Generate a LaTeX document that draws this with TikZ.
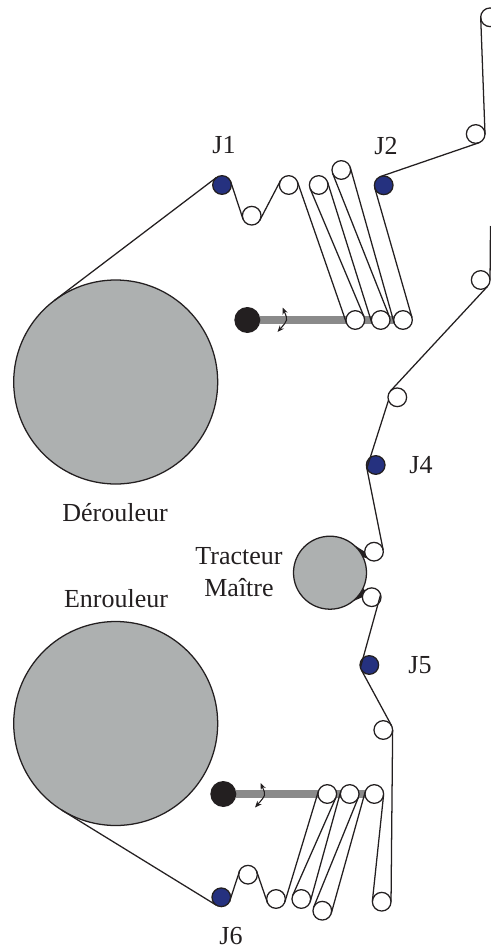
\documentclass[tikz,border=0pt]{standalone}
\usepackage{fontspec}
\setmainfont{Liberation Serif}
\usetikzlibrary{backgrounds,arrows.meta}
\definecolor{drumgray}{HTML}{ADB0B0}
\definecolor{armgray}{HTML}{8A8A8A}
\definecolor{jnavy}{HTML}{25317F}
\definecolor{inkdark}{HTML}{231F20}
\tikzset{
  drum/.style={circle,draw=inkdark,fill=drumgray,line width=0.95pt,inner sep=0pt,outer sep=0pt,minimum size=#1*0.75pt},
  roller/.style={circle,draw=inkdark,fill=white,line width=0.95pt,inner sep=0pt,outer sep=0pt,minimum size=14pt},
  sensor/.style={circle,draw=inkdark,fill=jnavy,line width=0.95pt,inner sep=0pt,outer sep=0pt,minimum size=14pt},
  pivot/.style={circle,fill=inkdark,inner sep=0pt,outer sep=0pt,minimum size=19.5pt},
  belt/.style={draw=inkdark,line width=0.95pt},
  arm/.style={draw=armgray,line width=6pt},
  swing/.style={draw=inkdark,line width=0.8pt,{Stealth[length=5pt,width=4pt]}-{Stealth[length=5pt,width=4pt]}},
  lbl/.style={text=inkdark,font=\fontsize{19.5pt}{23pt}\selectfont,inner sep=0pt,align=center}
}
\begin{document}
\begin{tikzpicture}[x=0.75pt,y=-0.75pt]
\useasboundingbox (0,0) rectangle (491,949);
% drums
\node[drum=204] (der) at (115.7,382) {};
\node[drum=204] (enr) at (115.7,723.5) {};
\node[drum=73]  (mast) at (330,572.7) {};
% top section
\node[sensor] (J1) at (222,185) {};
\node[roller] (a1) at (251.7,215.7) {};
\node[roller] (b1) at (288.7,185) {};
\node[roller] (c1) at (318.7,185) {};
\node[roller] (d1) at (341.3,170) {};
\node[sensor] (J2) at (383.7,185.3) {};
\node[roller] (B1) at (355.3,320) {};
\node[roller] (B2) at (380.7,320) {};
\node[roller] (B3) at (403,320) {};
\node[pivot]  (K1) at (247.3,320) {};
\node[roller] (R1) at (475.7,134) {};
\node[roller] (R0) at (490,17.3) {};
\coordinate (cut) at (490.5,226);
\node[roller] (R2) at (480.7,280) {};
\node[roller] (R3) at (397.3,397.3) {};
\node[sensor] (J4) at (375.7,465) {};
\node[roller] (U) at (374,551.7) {};
\node[roller] (L) at (371.7,597.2) {};
\node[sensor] (J5) at (369.3,665) {};
\node[roller] (R5) at (383.3,730) {};
% bottom section
\node[roller] (E) at (381.7,901.7) {};
\node[roller] (T3) at (374.3,794) {};
\node[roller] (T2) at (349.7,794) {};
\node[roller] (T1) at (327.3,794) {};
\node[pivot]  (K2) at (223.3,794) {};
\node[roller] (d2) at (322.3,910.7) {};
\node[roller] (c2) at (301.3,899) {};
\node[roller] (b2) at (276,899) {};
\node[roller] (a2) at (248,874.7) {};
\node[sensor] (J6) at (221.3,897.3) {};
% arms and the web wrapped on the master drum, all under the circles
\begin{scope}[on background layer]
\draw[arm] (K1) -- (B3);
\draw[arm] (K2) -- (T3);
\fill[inkdark] (mast.52) -- (U.180) -- (U.225) -- (mast.25) -- cycle;
\fill[inkdark] (mast.-52) -- (L.180) -- (L.135) -- (mast.-25) -- cycle;
\end{scope}
% swing arrows
\coordinate (s1a) at (282.5,307.5);
\coordinate (s1b) at (277.5,332);
\coordinate (s1c) at (288,320);
\coordinate (s2a) at (260.5,783);
\coordinate (s2b) at (255,807.5);
\coordinate (s2c) at (266,795);
\draw[swing] (s1a) .. controls (s1c) .. (s1b);
\draw[swing] (s2a) .. controls (s2c) .. (s2b);
% web, top part
\draw[belt] (der.127) -- (J1.127);
\draw[belt] (J1.20) -- (a1.200);
\draw[belt] (a1.-32) -- (b1.148);
\draw[belt] (b1.20) -- (B1.200);
\draw[belt] (B1.23) -- (c1.203);
\draw[belt] (c1.19) -- (B2.199);
\draw[belt] (B2.21) -- (d1.201);
\draw[belt] (d1.17) -- (B3.197);
\draw[belt] (B3.15) -- (J2.195);
\draw[belt] (J2.109) -- (R1.289);
\draw[belt] (R1.358) -- (R0.178);
\draw[belt] (cut) -- (R2.2);
\draw[belt] (R2.-43) -- (R3.137);
\draw[belt] (R3.199) -- (J4.199);
\draw[belt] (J4.191) -- (U.11);
\draw[belt] (L.17) -- (J5.197);
\draw[belt] (J5.209) -- (R5.29);
% web, bottom part
\draw[belt] (R5.0) -- (E.0);
\draw[belt] (E.175) -- (T3.-5);
\draw[belt] (T3.164) -- (d2.-16);
\draw[belt] (d2.158) -- (T2.-22);
\draw[belt] (T2.163) -- (c2.-17);
\draw[belt] (c2.156) -- (T1.-24);
\draw[belt] (T1.162) -- (b2.-18);
\draw[belt] (b2.205) -- (a2.25);
\draw[belt] (a2.151) -- (J6.-29);
\draw[belt] (J6.238) -- (enr.238);
% labels
\node[lbl] (tJ1) at (224,145) {J1};
\node[lbl] (tJ2) at (386,146) {J2};
\node[lbl] (tJ4) at (421,465) {J4};
\node[lbl] (tJ5) at (420,665) {J5};
\node[lbl] (tJ6) at (231,936) {J6};
\node[lbl] (tDer) at (115,513) {Dérouleur};
\node[lbl] (tEnr) at (116,599) {Enrouleur};
\node[lbl] (tTra) at (239,556) {Tracteur};
\node[lbl] (tMai) at (239,588) {Maître};
\end{tikzpicture}
\end{document}
